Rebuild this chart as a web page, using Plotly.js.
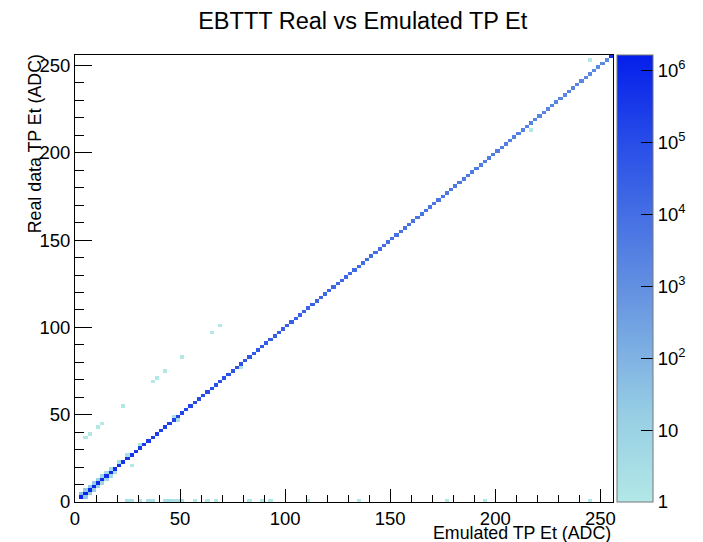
<!DOCTYPE html>
<html>
<head>
<meta charset="utf-8">
<script src="https://cdn.plot.ly/plotly-3.0.1.min.js"></script>
<style>html,body{margin:0;padding:0;background:#fff;}#chart{width:703px;height:542px;}</style>
</head>
<body>
<div id="chart"></div>
<script>
// ---- binning of both axes (ADC counts) ----
const binStart = 0;
const binWidth = 2;
const nBins = 128;

// ---- diagonal: real == emulated ----
const diagEt = [3,5,7,9,11,13,15,17,19,21,23,25,27,29,31,33,35,37,39,41,43,45,47,49,51,53,55,57,59,61,
  63,65,67,69,71,73,75,77,79,81,83,85,87,89,91,93,95,97,99,101,103,105,107,109,111,113,115,117,119,121,
  123,125,127,129,131,133,135,137,139,141,143,145,147,149,151,153,155,157,159,161,163,165,167,169,171,173,175,177,179,181,
  183,185,187,189,191,193,195,197,199,201,203,205,207,209,211,213,215,217,219,221,223,225,227,229,231,233,235,237,239,241,
  243,245,247,249,251,253,255];
const diagCounts = [1200000,1100000,950000,850000,760000,690000,620000,560000,510000,470000,
  430000,400000,370000,340000,310000,290000,270000,250000,230000,215000,
  200000,185000,172000,160000,150000,140000,130000,121000,113000,105000,
  98000,91000,85000,79000,74000,69000,64000,60000,56000,52000,
  49000,46000,43000,40000,38000,36000,34000,32000,30000,28500,
  27000,25500,24000,23000,22000,21000,20000,19000,18000,17200,
  16400,15600,14900,14200,13600,13000,12400,11900,11400,10900,
  10400,10000,9600,9200,8800,8400,8100,7800,7500,7200,
  6900,6600,6400,6100,5900,5700,5500,5300,5100,4900,
  4700,4550,4400,4250,4100,3950,3800,3650,3500,3400,
  3300,3200,3100,3000,2900,2800,2700,2600,2520,2440,
  2360,2280,2200,2130,2060,2000,1940,1880,1820,1760,
  1700,1650,1600,1550,1500,1450,400000];

// ---- off-diagonal entries ----
const offEmul = [3,5,5,7,7,9,9,11,11,13,13,15,15,17,17,19,21,25,27,31,47,49,79,217,
  5,7,11,13,23,37,39,43,51,65,69,245];
const offReal = [5,3,7,5,9,7,11,9,13,11,15,13,17,15,19,17,23,27,21,33,49,47,77,213,
  37,39,43,45,55,69,71,75,83,97,101,253];
const offCounts = [40,30,25,20,20,15,15,12,10,8,8,6,5,4,3,3,3,2,1,2,2,2,2,1,
  1,1,1,1,1,1,1,1,1,1,1,1];

// ---- real Et = 0 row (emulated non-zero) ----
const zeroRowEmul = [25,27,31,35,37,43,45,47,49,51,57,63,67,83,89,93,111,135,177,195,245];
const zeroRowCounts = [2,2,1,2,2,2,3,2,2,2,1,1,1,1,1,1,1,1,1,1,1];

// ---- colour axis ----
const zMaxLog = 6.21;
const cbTickVals = [0,1,2,3,4,5,6];
const cbTickText = ['1','10','10<sup>2</sup>','10<sup>3</sup>','10<sup>4</sup>','10<sup>5</sup>','10<sup>6</sup>'];

// build grid
const centers = [];
for (let i = 0; i < nBins; i++) centers.push(binStart + binWidth * (i + 0.5));
const z = centers.map(() => centers.map(() => null));
function fill(ex, re, c) {
  const ix = Math.floor((ex - binStart) / binWidth);
  const iy = Math.floor((re - binStart) / binWidth);
  if (ix >= 0 && ix < nBins && iy >= 0 && iy < nBins) z[iy][ix] = Math.log10(c);
}
diagEt.forEach((e, i) => fill(e, e, diagCounts[i]));
offEmul.forEach((e, i) => fill(e, offReal[i], offCounts[i]));
zeroRowEmul.forEach((e, i) => fill(e, 1, zeroRowCounts[i]));

const font = 'Liberation Sans, Arial, Helvetica, sans-serif';

const trace = {
  type: 'heatmap',
  x: centers, y: centers, z: z,
  zmin: 0, zmax: zMaxLog,
  hoverongaps: false,
  colorscale: [
    [0, 'rgb(178,232,230)'],
    [0.2, 'rgb(150,205,228)'],
    [0.5, 'rgb(95,140,225)'],
    [0.8, 'rgb(40,78,232)'],
    [1, 'rgb(5,30,235)']
  ],
  colorbar: {
    thickness: 36, thicknessmode: 'pixels',
    len: 1, lenmode: 'fraction',
    x: 1.0074, xanchor: 'left', xpad: 0,
    y: 0, yanchor: 'bottom', ypad: 0,
    outlinewidth: 1, outlinecolor: '#777',
    tickmode: 'array', tickvals: cbTickVals, ticktext: cbTickText,
    ticks: 'inside', ticklen: 12, tickcolor: '#000', tickwidth: 1,
    tickfont: {family: font, size: 18.5, color: '#000'}
  }
};

// colour-bar minor ticks (decoration)
const shapes = [];
for (let d = 0; d < 7; d++) {
  for (let k = 2; k <= 9; k++) {
    const v = d + Math.log10(k);
    if (v > zMaxLog) continue;
    shapes.push({type: 'line', xref: 'paper', yref: 'paper',
      x0: (647 - 75) / 538, x1: (653 - 75) / 538, y0: v / zMaxLog, y1: v / zMaxLog,
      line: {color: '#000', width: 1}});
  }
}

const layout = {
  width: 703, height: 542,
  margin: {l: 75, r: 90, t: 55, b: 40, pad: 0, autoexpand: false},
  paper_bgcolor: '#fff', plot_bgcolor: '#fff',
  font: {family: font, color: '#000'},
  title: {text: 'EBTTT Real vs Emulated TP Et', x: 0.516, xanchor: 'center', y: 1 - 21 / 542, yanchor: 'middle',
          font: {family: font, size: 23.5, color: '#000'}},
  xaxis: {range: [0, 256], showgrid: false, zeroline: false, showline: true, linecolor: '#000', linewidth: 1, mirror: true,
          ticks: 'inside', ticklen: 13, tickcolor: '#000', dtick: 50, tick0: 0,
          minor: {dtick: 10, ticks: 'inside', ticklen: 7, tickcolor: '#000', showgrid: false},
          tickfont: {family: font, size: 18.5, color: '#000'}},
  yaxis: {range: [0, 256], showgrid: false, zeroline: false, showline: true, linecolor: '#000', linewidth: 1, mirror: true,
          ticks: 'inside', ticklen: 17, tickcolor: '#000', dtick: 50, tick0: 0,
          minor: {dtick: 10, ticks: 'inside', ticklen: 9, tickcolor: '#000', showgrid: false},
          tickfont: {family: font, size: 18.5, color: '#000'}},
  annotations: [
    {text: 'Emulated TP Et (ADC)', xref: 'paper', yref: 'paper', x: 1, xanchor: 'right', y: -31 / 447, yanchor: 'middle',
     showarrow: false, font: {family: font, size: 17.8, color: '#000'}},
    {text: 'Real data TP Et (ADC)', xref: 'paper', yref: 'paper', x: -40 / 538, xanchor: 'center', y: 1.005, yanchor: 'top',
     textangle: -90, showarrow: false, font: {family: font, size: 17.8, color: '#000'}}
  ],
  shapes: shapes
};

Plotly.newPlot('chart', [trace], layout, {displayModeBar: false, staticPlot: true});
</script>
</body>
</html>
